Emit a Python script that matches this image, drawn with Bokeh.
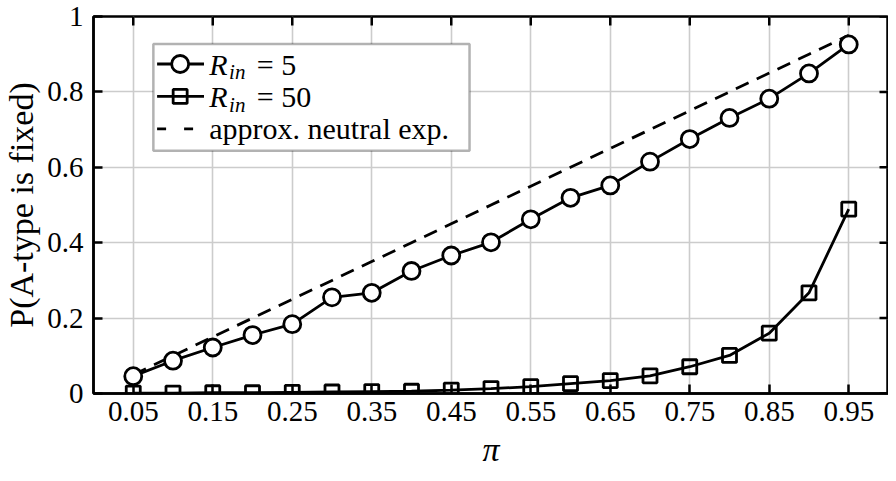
from bokeh.plotting import figure
from bokeh.models import FixedTicker, Label, BoxAnnotation, Range1d
from bokeh.embed import file_html
from bokeh.resources import INLINE

# ---- data ----
pi_vals = [0.05, 0.10, 0.15, 0.20, 0.25, 0.30, 0.35, 0.40, 0.45, 0.50,
           0.55, 0.60, 0.65, 0.70, 0.75, 0.80, 0.85, 0.90, 0.95]
r_in_5 = [0.046, 0.087, 0.122, 0.155, 0.184, 0.255, 0.267, 0.325, 0.366, 0.401,
          0.462, 0.519, 0.552, 0.615, 0.675, 0.731, 0.782, 0.849, 0.926]
r_in_50 = [0.001, 0.001, 0.002, 0.002, 0.003, 0.004, 0.005, 0.006, 0.009, 0.013,
           0.018, 0.026, 0.034, 0.047, 0.071, 0.101, 0.160, 0.267, 0.489]
neutral = [0.05, 0.10, 0.15, 0.20, 0.25, 0.30, 0.35, 0.40, 0.45, 0.50,
           0.55, 0.60, 0.65, 0.70, 0.75, 0.80, 0.85, 0.90, 0.95]

x_ticks = [0.05, 0.15, 0.25, 0.35, 0.45, 0.55, 0.65, 0.75, 0.85, 0.95]
x_tick_labels = ["0.05", "0.15", "0.25", "0.35", "0.45", "0.55", "0.65", "0.75", "0.85", "0.95"]
y_ticks = [0, 0.2, 0.4, 0.6, 0.8, 1]
y_tick_labels = ["0", "0.2", "0.4", "0.6", "0.8", "1"]

legend_labels = ["= 5", "= 50", "approx. neutral exp."]

FONT = "Liberation Serif"
LW = 2.5
DLW = 2.8

p = figure(width=888, height=473, x_range=Range1d(0, 1), y_range=Range1d(0, 1),
           output_backend="svg", toolbar_location=None,
           min_border_left=88, min_border_right=0, min_border_top=16, min_border_bottom=80)

p.outline_line_color = "black"
p.outline_line_width = LW
p.background_fill_color = "white"

# grids
p.xgrid.ticker = FixedTicker(ticks=x_ticks)
p.ygrid.ticker = FixedTicker(ticks=y_ticks)
for g in (p.xgrid, p.ygrid):
    g.grid_line_color = "#cccccc"
    g.grid_line_width = 1.6

def style_axis(ax):
    ax.axis_line_color = "black"
    ax.axis_line_width = LW
    ax.major_tick_in = 9
    ax.major_tick_out = 0
    ax.major_tick_line_width = LW
    ax.minor_tick_line_color = None
    ax.major_label_text_font = FONT
    ax.major_label_text_font_size = "29px"
    ax.major_label_text_color = "black"
    ax.axis_label_text_color = "black"
    ax.axis_label_text_font = FONT

xa = p.xaxis[0]
xa.ticker = FixedTicker(ticks=x_ticks)
xa.major_label_overrides = dict(zip(x_ticks, x_tick_labels))
style_axis(xa)
xa.major_label_standoff = 8
xa.axis_label = "π"
xa.axis_label_text_font_style = "italic"
xa.axis_label_text_font_size = "34px"
xa.axis_label_standoff = 7

ya = p.yaxis[0]
ya.ticker = FixedTicker(ticks=y_ticks)
ya.major_label_overrides = dict(zip(y_ticks, y_tick_labels))
style_axis(ya)
ya.major_label_standoff = 10
ya.axis_label = "P(A-type is fixed)"
ya.axis_label_text_font_style = "normal"
ya.axis_label_text_font_size = "34px"
ya.axis_label_standoff = 4

# inward ticks on the top and right edges of the box, at the same tick values
TICK_X = 9 / 378.0
TICK_Y = 9 / 797.0
p.segment(x0=x_ticks, y0=[1.0] * len(x_ticks), x1=x_ticks, y1=[1.0 - TICK_X] * len(x_ticks),
          line_color="black", line_width=LW)
p.segment(x0=[1.0] * len(y_ticks), y0=y_ticks, x1=[1.0 - TICK_Y] * len(y_ticks), y1=y_ticks,
          line_color="black", line_width=LW)

# data series
p.line(pi_vals, neutral, line_color="black", line_width=DLW, line_dash="14 9")
p.line(pi_vals, r_in_5, line_color="black", line_width=DLW)
p.scatter(pi_vals, r_in_5, marker="circle", size=17, line_color="black", line_width=DLW,
          fill_color="white")
p.line(pi_vals, r_in_50, line_color="black", line_width=DLW)
p.scatter(pi_vals, r_in_50, marker="square", size=14, line_color="black", line_width=DLW,
          fill_color=None)

# ---- legend (layout constants in axis units) ----
LEG_L, LEG_R, LEG_T, LEG_B = 0.0753, 0.473, 0.927, 0.644
ROWS = [0.874, 0.788, 0.702]
S0, S1, SM = 0.080, 0.139, 0.109
TX_R, TX_SUB, TX_EQ = 0.1455, 0.1705, 0.2055

p.add_layout(BoxAnnotation(left=LEG_L, right=LEG_R, top=LEG_T, bottom=LEG_B,
                           fill_color="white", fill_alpha=1.0, line_color="black",
                           line_width=LW, level="underlay"))

p.line([S0, S1], [ROWS[0], ROWS[0]], line_color="black", line_width=DLW)
p.scatter([SM], [ROWS[0]], marker="circle", size=17, line_color="black", line_width=DLW,
          fill_color="white")
p.line([S0, S1], [ROWS[1], ROWS[1]], line_color="black", line_width=DLW)
p.scatter([SM], [ROWS[1]], marker="square", size=14, line_color="black", line_width=DLW,
          fill_color=None)
p.line([S0, S1], [ROWS[2], ROWS[2]], line_color="black", line_width=DLW, line_dash="9 18")

for i in range(2):
    p.add_layout(Label(x=TX_R, y=ROWS[i], text="R", text_font=FONT, text_font_size="30px",
                       text_font_style="italic", text_baseline="middle", text_color="black"))
    p.add_layout(Label(x=TX_SUB, y=ROWS[i] - 0.022, text="in", text_font=FONT,
                       text_font_size="21px", text_font_style="italic",
                       text_baseline="middle", text_color="black"))
    p.add_layout(Label(x=TX_EQ, y=ROWS[i], text=legend_labels[i], text_font=FONT,
                       text_font_size="30px", text_baseline="middle", text_color="black"))
p.add_layout(Label(x=TX_R, y=ROWS[2], text=legend_labels[2], text_font=FONT,
                   text_font_size="30px", text_baseline="middle", text_color="black"))

open("out.html", "w").write(file_html(p, INLINE))
